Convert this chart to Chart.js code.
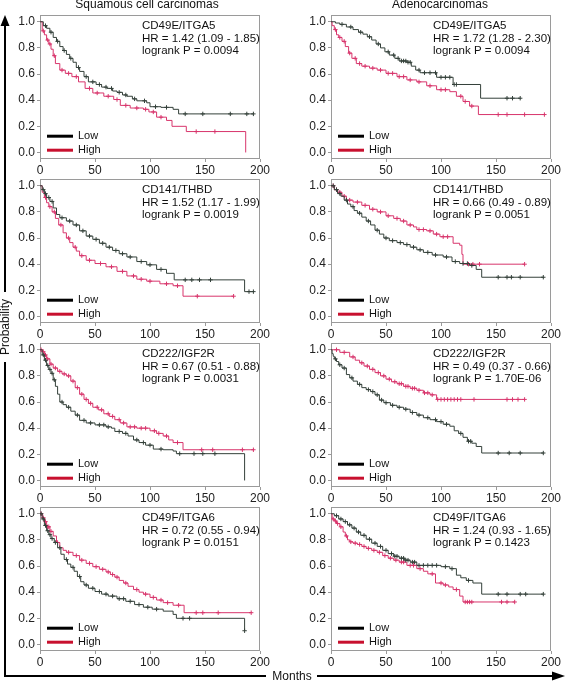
<!DOCTYPE html>
<html>
<head>
<meta charset="utf-8">
<script src="https://cdn.jsdelivr.net/npm/chart.js"></script>
<style>
body { margin: 0; background: #fff; }
#wrap { position: relative; width: 565px; height: 681px; overflow: hidden; font-family: "Liberation Sans", Arial, sans-serif; color: #111; }
#wrap canvas { position: absolute; }
.lbl { position: absolute; font-size: 12px; white-space: nowrap; line-height: 14px; }
</style>
</head>
<body>
<div id="wrap">
  <canvas id="bg" width="565" height="681" style="left:0;top:0"></canvas>
</div>
<script>
// 축, 제목
var colTitles = ['Squamous cell carcinomas', 'Adenocarcinomas'];
var yLabel = 'Probability';
var xLabel = 'Months';
var xTicks = [0, 50, 100, 150, 200];
var yTicks = [0, 0.2, 0.4, 0.6, 0.8, 1.0];
var legendNames = ['Low', 'High'];

// 패널 텍스트 (위에서 아래로)
var genes = ['CD49E/ITGA5', 'CD141/THBD', 'CD222/IGF2R', 'CD49F/ITGA6'];
var sqHr = ['HR = 1.42 (1.09 - 1.85)', 'HR = 1.52 (1.17 - 1.99)', 'HR = 0.67 (0.51 - 0.88)', 'HR = 0.72 (0.55 - 0.94)'];
var sqP = ['logrank P = 0.0094', 'logrank P = 0.0019', 'logrank P = 0.0031', 'logrank P = 0.0151'];
var adHr = ['HR = 1.72 (1.28 - 2.30)', 'HR = 0.66 (0.49 - 0.89)', 'HR = 0.49 (0.37 - 0.66)', 'HR = 1.24 (0.93 - 1.65)'];
var adP = ['logrank P = 0.0094', 'logrank P = 0.0051', 'logrank P = 1.70E-06', 'logrank P = 0.1423'];

// KM 곡선: T = 사건 시간, S = 생존율, C = 중도절단 시간
// Squamous, ITGA5
var sqA_lowT = [0, 3, 6, 9, 12, 15, 18, 21, 24, 27, 30, 33, 36, 40, 44, 51, 56, 61, 66, 70, 75, 79, 84, 88, 97, 100, 110, 121, 126];
var sqA_lowS = [1, 0.97, 0.95, 0.92, 0.88, 0.85, 0.81, 0.78, 0.75, 0.72, 0.69, 0.65, 0.62, 0.58, 0.54, 0.52, 0.50, 0.49, 0.47, 0.46, 0.44, 0.43, 0.41, 0.395, 0.38, 0.35, 0.345, 0.33, 0.295];
var sqA_lowC = [5, 10, 16, 22, 28, 35, 42, 48, 54, 60, 65, 72, 78, 86, 95, 105, 115, 132, 148, 173, 188, 194];
var sqA_highT = [0, 2, 4, 6, 8, 10, 12, 14, 18, 23, 29, 35, 41, 48, 58, 67, 73, 82, 94, 99, 106, 115, 120, 133, 187];
var sqA_highS = [1, 0.93, 0.9, 0.86, 0.83, 0.79, 0.74, 0.68, 0.63, 0.605, 0.58, 0.54, 0.49, 0.455, 0.43, 0.405, 0.36, 0.34, 0.33, 0.31, 0.27, 0.245, 0.2, 0.16, 0];
var sqA_highC = [3, 7, 9, 13, 20, 26, 33, 45, 52, 62, 70, 78, 88, 96, 103, 110, 142, 159];

// Adeno, ITGA5
var adA_lowT = [0, 4, 8, 14, 20, 25, 29, 33, 37, 41, 45, 49, 53, 58, 62, 69, 73, 77, 81, 96, 111, 136];
var adA_lowS = [1, 0.99, 0.98, 0.96, 0.94, 0.92, 0.905, 0.885, 0.86, 0.83, 0.8, 0.77, 0.745, 0.72, 0.70, 0.69, 0.66, 0.63, 0.61, 0.575, 0.52, 0.415];
var adA_lowC = [10, 18, 27, 35, 43, 52, 57, 61, 64, 66, 68, 70, 72, 80, 85, 90, 95, 100, 104, 108, 112, 114, 160, 165, 172];
var adA_highT = [0, 1, 3, 5, 7, 10, 13, 16, 19, 23, 28, 35, 42, 50, 60, 69, 78, 87, 96, 108, 114, 120, 126, 134];
var adA_highS = [1, 0.97, 0.94, 0.9, 0.88, 0.85, 0.81, 0.76, 0.72, 0.68, 0.66, 0.645, 0.63, 0.605, 0.58, 0.555, 0.54, 0.51, 0.48, 0.465, 0.43, 0.39, 0.355, 0.29];
var adA_highC = [4, 8, 12, 17, 22, 26, 31, 38, 45, 52, 56, 62, 66, 72, 80, 90, 100, 104, 118, 122, 128, 152, 160, 176, 194];

// Squamous, THBD
var sqB_lowT = [0, 2, 4, 6, 9, 12, 15, 18, 24, 30, 36, 42, 48, 54, 60, 66, 72, 79, 88, 97, 106, 115, 122, 186];
var sqB_lowS = [1, 0.97, 0.94, 0.91, 0.88, 0.83, 0.78, 0.755, 0.73, 0.70, 0.655, 0.615, 0.59, 0.56, 0.53, 0.505, 0.48, 0.455, 0.42, 0.395, 0.36, 0.33, 0.28, 0.19];
var sqB_lowC = [3, 5, 8, 11, 20, 27, 33, 39, 45, 51, 57, 63, 69, 75, 82, 92, 100, 110, 132, 138, 145, 155, 190, 194];
var sqB_highT = [0, 2, 4, 6, 8, 11, 14, 17, 21, 24, 27, 30, 33, 36, 42, 50, 60, 70, 79, 88, 97, 109, 121, 130];
var sqB_highS = [1, 0.95, 0.91, 0.87, 0.84, 0.8, 0.75, 0.7, 0.64, 0.6, 0.565, 0.53, 0.5, 0.465, 0.43, 0.405, 0.38, 0.345, 0.31, 0.285, 0.27, 0.25, 0.235, 0.155];
var sqB_highC = [5, 9, 13, 19, 26, 32, 38, 45, 55, 65, 75, 85, 92, 100, 115, 125, 143, 176];

// Adeno, THBD
var adB_lowT = [0, 3, 6, 9, 12, 15, 18, 21, 24, 28, 32, 36, 40, 44, 48, 53, 60, 66, 72, 78, 84, 92, 102, 110, 117, 126, 132, 137];
var adB_lowS = [1, 0.97, 0.94, 0.92, 0.89, 0.86, 0.84, 0.81, 0.79, 0.76, 0.73, 0.7, 0.66, 0.63, 0.6, 0.58, 0.565, 0.55, 0.53, 0.51, 0.49, 0.47, 0.455, 0.42, 0.405, 0.39, 0.36, 0.3];
var adB_lowC = [2, 5, 8, 14, 20, 26, 34, 42, 50, 56, 63, 69, 75, 81, 88, 95, 105, 113, 120, 124, 128, 152, 160, 164, 172, 193];
var adB_highT = [0, 3, 6, 10, 14, 20, 28, 35, 42, 50, 57, 63, 69, 75, 78, 87, 93, 99, 111, 117, 119, 120];
var adB_highS = [1, 0.97, 0.95, 0.92, 0.89, 0.875, 0.85, 0.82, 0.8, 0.77, 0.75, 0.73, 0.7, 0.685, 0.665, 0.655, 0.63, 0.61, 0.56, 0.545, 0.475, 0.4];
var adB_highC = [2, 5, 8, 12, 17, 24, 31, 38, 45, 52, 60, 66, 72, 80, 84, 90, 96, 102, 106, 125, 129, 135, 176];

// Squamous, IGF2R
var sqC_lowT = [0, 2, 4, 6, 8, 10, 12, 14, 16, 18, 21, 24, 28, 32, 36, 42, 50, 60, 65, 68, 75, 80, 85, 90, 96, 103, 112, 121, 124, 186];
var sqC_lowS = [1, 0.96, 0.92, 0.88, 0.85, 0.82, 0.77, 0.72, 0.66, 0.6, 0.58, 0.56, 0.53, 0.5, 0.46, 0.44, 0.425, 0.41, 0.4, 0.375, 0.36, 0.34, 0.31, 0.29, 0.27, 0.24, 0.235, 0.225, 0.205, 0];
var sqC_lowC = [3, 5, 7, 9, 11, 13, 20, 26, 34, 40, 46, 54, 58, 62, 72, 78, 88, 94, 100, 110, 127, 140, 148, 159];
var sqC_highT = [0, 2, 4, 6, 9, 12, 16, 20, 24, 28, 32, 36, 40, 44, 48, 53, 58, 63, 68, 73, 79, 88, 100, 106, 112, 117, 121, 130];
var sqC_highS = [1, 0.985, 0.96, 0.93, 0.89, 0.86, 0.835, 0.815, 0.8, 0.76, 0.71, 0.66, 0.62, 0.59, 0.56, 0.54, 0.51, 0.49, 0.465, 0.44, 0.41, 0.4, 0.38, 0.36, 0.34, 0.31, 0.29, 0.235];
var sqC_highC = [1, 3, 5, 7, 10, 14, 18, 22, 26, 30, 34, 38, 42, 46, 52, 56, 62, 66, 72, 76, 82, 86, 92, 96, 104, 108, 115, 125, 147, 157, 184, 194];

// Adeno, IGF2R
var adC_lowT = [0, 1, 2, 3, 5, 7, 10, 14, 17, 20, 24, 28, 32, 36, 40, 44, 48, 54, 60, 66, 72, 78, 84, 90, 96, 102, 108, 112, 116, 120, 124, 128, 132, 137];
var adC_lowS = [1, 0.97, 0.95, 0.93, 0.91, 0.885, 0.86, 0.81, 0.785, 0.76, 0.735, 0.71, 0.695, 0.68, 0.655, 0.615, 0.595, 0.575, 0.56, 0.545, 0.52, 0.5, 0.48, 0.465, 0.45, 0.43, 0.415, 0.38, 0.36, 0.33, 0.3, 0.285, 0.26, 0.21];
var adC_lowC = [4, 8, 12, 19, 26, 34, 38, 42, 46, 50, 56, 62, 68, 74, 80, 88, 95, 100, 105, 118, 125, 127, 152, 162, 172, 193];
var adC_highT = [0, 8, 17, 22, 26, 30, 35, 40, 45, 50, 55, 60, 66, 72, 78, 84, 90, 96];
var adC_highS = [1, 0.98, 0.945, 0.92, 0.9, 0.875, 0.85, 0.825, 0.8, 0.775, 0.755, 0.74, 0.72, 0.705, 0.69, 0.67, 0.655, 0.62];
var adC_highC = [5, 12, 20, 28, 33, 38, 43, 48, 53, 58, 62, 64, 68, 70, 74, 76, 80, 85, 88, 92, 97, 100, 103, 106, 109, 112, 115, 118, 130, 160, 165, 170, 176];

// Squamous, ITGA6
var sqD_lowT = [0, 2, 4, 6, 8, 10, 13, 16, 19, 22, 25, 28, 31, 34, 37, 40, 44, 50, 56, 62, 70, 78, 86, 94, 102, 112, 121, 124, 186];
var sqD_lowS = [1, 0.96, 0.91, 0.87, 0.84, 0.81, 0.78, 0.74, 0.69, 0.65, 0.615, 0.59, 0.56, 0.52, 0.48, 0.455, 0.43, 0.405, 0.385, 0.37, 0.35, 0.33, 0.305, 0.285, 0.27, 0.255, 0.23, 0.2, 0.105];
var sqD_lowC = [1, 3, 5, 7, 9, 11, 14, 18, 24, 30, 36, 42, 48, 54, 60, 66, 72, 76, 82, 90, 98, 106, 130, 136, 186];
var sqD_highT = [0, 2, 4, 6, 9, 12, 15, 18, 21, 24, 30, 36, 42, 48, 54, 60, 64, 68, 72, 76, 80, 85, 90, 94, 100, 106, 112, 121, 131];
var sqD_highS = [1, 0.97, 0.94, 0.9, 0.865, 0.83, 0.78, 0.74, 0.72, 0.705, 0.68, 0.645, 0.62, 0.595, 0.575, 0.555, 0.535, 0.515, 0.49, 0.47, 0.445, 0.42, 0.4, 0.385, 0.36, 0.34, 0.32, 0.3, 0.243];
var sqD_highC = [1, 3, 5, 7, 8, 10, 16, 26, 33, 38, 45, 51, 57, 62, 66, 70, 78, 88, 96, 103, 110, 116, 126, 142, 148, 162, 192];

// Adeno, ITGA6
var adD_lowT = [0, 3, 7, 11, 15, 19, 23, 27, 32, 37, 42, 47, 52, 57, 62, 67, 72, 78, 100, 108, 114, 118, 123, 129, 137];
var adD_lowS = [1, 0.985, 0.96, 0.94, 0.915, 0.89, 0.86, 0.835, 0.805, 0.775, 0.75, 0.72, 0.695, 0.675, 0.66, 0.645, 0.63, 0.605, 0.595, 0.58, 0.53, 0.51, 0.49, 0.47, 0.385];
var adD_lowC = [5, 9, 13, 17, 21, 25, 30, 35, 40, 45, 50, 55, 58, 60, 64, 66, 68, 70, 74, 76, 80, 84, 88, 92, 96, 104, 110, 125, 152, 160, 172, 177, 193];
var adD_highT = [0, 1, 3, 5, 8, 11, 13, 15, 17, 20, 24, 28, 32, 37, 42, 47, 52, 57, 62, 69, 78, 84, 88, 95, 102, 107, 111, 117, 120];
var adD_highS = [1, 0.96, 0.945, 0.925, 0.9, 0.86, 0.83, 0.8, 0.785, 0.775, 0.765, 0.75, 0.735, 0.72, 0.705, 0.68, 0.66, 0.645, 0.63, 0.605, 0.58, 0.56, 0.54, 0.47, 0.455, 0.44, 0.42, 0.37, 0.325];
var adD_highC = [2, 4, 6, 9, 14, 18, 22, 26, 30, 34, 39, 44, 49, 54, 59, 64, 66, 72, 75, 81, 92, 100, 104, 114, 122, 124, 126, 128, 155, 160, 167];

var FONT = '"Liberation Sans", Arial, sans-serif';
var lowColor = '#34403a';
var highColor = '#d8356c';

window.onload = function()
{
    drawFrame();

    mkpanel(10, 6, sqA_lowT, sqA_lowS, sqA_lowC, sqA_highT, sqA_highS, sqA_highC, [genes[0], sqHr[0], sqP[0]]);
    mkpanel(301, 6, adA_lowT, adA_lowS, adA_lowC, adA_highT, adA_highS, adA_highC, [genes[0], adHr[0], adP[0]]);
    mkpanel(10, 170, sqB_lowT, sqB_lowS, sqB_lowC, sqB_highT, sqB_highS, sqB_highC, [genes[1], sqHr[1], sqP[1]]);
    mkpanel(301, 170, adB_lowT, adB_lowS, adB_lowC, adB_highT, adB_highS, adB_highC, [genes[1], adHr[1], adP[1]]);
    mkpanel(10, 334, sqC_lowT, sqC_lowS, sqC_lowC, sqC_highT, sqC_highS, sqC_highC, [genes[2], sqHr[2], sqP[2]]);
    mkpanel(301, 334, adC_lowT, adC_lowS, adC_lowC, adC_highT, adC_highS, adC_highC, [genes[2], adHr[2], adP[2]]);
    mkpanel(10, 498, sqD_lowT, sqD_lowS, sqD_lowC, sqD_highT, sqD_highS, sqD_highC, [genes[3], sqHr[3], sqP[3]]);
    mkpanel(301, 498, adD_lowT, adD_lowS, adD_lowC, adD_highT, adD_highS, adD_highC, [genes[3], adHr[3], adP[3]]);
}

// 바깥 화살표와 제목
function drawFrame()
{
    var wrap = document.getElementById('wrap');
    var ctx = document.getElementById('bg').getContext('2d');
    ctx.strokeStyle = '#000';
    ctx.fillStyle = '#000';
    ctx.lineWidth = 2;

    ctx.beginPath();
    ctx.moveTo(5, 24); ctx.lineTo(5, 292);
    ctx.moveTo(5, 362); ctx.lineTo(5, 676);
    ctx.lineTo(266, 676);
    ctx.moveTo(317, 676); ctx.lineTo(553, 676);
    ctx.stroke();

    ctx.beginPath();
    ctx.moveTo(5, 15); ctx.lineTo(0.5, 26); ctx.lineTo(9.5, 26); ctx.closePath();
    ctx.fill();
    ctx.beginPath();
    ctx.moveTo(565, 676); ctx.lineTo(552, 671.5); ctx.lineTo(552, 680.5); ctx.closePath();
    ctx.fill();

    addLabel(wrap, colTitles[0], 147, 4, 0);
    addLabel(wrap, colTitles[1], 440, 4, 0);
    addLabel(wrap, yLabel, 5, 327, -90);
    addLabel(wrap, xLabel, 292, 676, 0);
}

function addLabel(wrap, text, cx, cy, rot)
{
    var d = document.createElement('div');
    d.className = 'lbl';
    d.textContent = text;
    d.style.left = cx + 'px';
    d.style.top = cy + 'px';
    d.style.transform = 'translate(-50%, -50%) rotate(' + rot + 'deg)';
    wrap.appendChild(d);
}

// 사건 + 중도절단을 한 줄의 계단 데이터로
function kmData(t, s, c)
{
    var pts = [];
    for (var i = 0; i < t.length; i++) pts.push({x: t[i], y: s[i], cens: false});
    for (var j = 0; j < c.length; j++)
    {
        var y = 1;
        for (var k = 0; k < t.length; k++) if (t[k] <= c[j]) y = s[k];
        pts.push({x: c[j], y: y, cens: true});
    }
    pts.sort(function(a, b) { return a.x - b.x; });
    return pts;
}

function kmSet(label, t, s, c, color)
{
    var pts = kmData(t, s, c);
    return {
        label: label,
        data: pts,
        stepped: true,
        borderColor: color,
        borderWidth: 1,
        fill: false,
        pointStyle: 'cross',
        pointRadius: pts.map(function(p) { return p.cens ? 2.2 : 0; }),
        pointBorderColor: color,
        pointBorderWidth: 1
    };
}

var panelPlugin = {
    id: 'panelPlugin',
    beforeDatasetsDraw: function(chart)
    {
        var a = chart.chartArea, ctx = chart.ctx;
        ctx.save();
        ctx.strokeStyle = '#9a9a9a';
        ctx.lineWidth = 1;
        ctx.strokeRect(Math.round(a.left) + 0.5, Math.round(a.top) + 0.5, Math.round(a.right - a.left) - 1, Math.round(a.bottom - a.top) - 1);
        ctx.restore();
    },
    afterDraw: function(chart)
    {
        var a = chart.chartArea, ctx = chart.ctx;
        var lines = chart.options.plugins.panelPlugin.lines;
        ctx.save();
        ctx.fillStyle = '#111';
        ctx.font = '11.5px ' + FONT;
        ctx.textBaseline = 'middle';
        ctx.textAlign = 'left';
        for (var i = 0; i < lines.length; i++) ctx.fillText(lines[i], a.left + 102, a.top + 11 + i * 12.5);

        // 범례
        var cols = ['#000', '#c8102e'];
        ctx.font = '11px ' + FONT;
        for (var j = 0; j < legendNames.length; j++)
        {
            var ly = a.top + 121 + j * 14;
            ctx.strokeStyle = cols[j];
            ctx.lineWidth = 3;
            ctx.beginPath();
            ctx.moveTo(a.left + 7, ly);
            ctx.lineTo(a.left + 33, ly);
            ctx.stroke();
            ctx.fillStyle = '#111';
            ctx.fillText(legendNames[j], a.left + 38, ly);
        }
        ctx.restore();
    }
};

function mkpanel(left, top, lowT, lowS, lowC, highT, highS, highC, lines)
{
    var wrap = document.getElementById('wrap');
    var cv = document.createElement('canvas');
    cv.width = 262;
    cv.height = 171;
    cv.style.left = left + 'px';
    cv.style.top = top + 'px';
    wrap.appendChild(cv);

    new Chart(cv, {
        type: 'line',
        data: {
            datasets: [
                kmSet('Low', lowT, lowS, lowC, lowColor),
                kmSet('High', highT, highS, highC, highColor)
            ]
        },
        options: {
            responsive: false,
            animation: false,
            events: [],
            layout: { padding: { top: 6, right: 12, left: 0, bottom: 0 } },
            plugins: {
                legend: { display: false },
                tooltip: { enabled: false },
                panelPlugin: { lines: lines }
            },
            scales: {
                x: {
                    type: 'linear', min: 0, max: 200,
                    afterBuildTicks: function(s) { s.ticks = xTicks.map(function(v) { return {value: v}; }); },
                    afterFit: function(s) { s.height = 18; },
                    grid: { drawOnChartArea: false, tickLength: 3, color: '#9a9a9a' },
                    border: { display: false },
                    ticks: { color: '#222', padding: 1, maxRotation: 0, font: { family: FONT, size: 12 } }
                },
                y: {
                    type: 'linear', min: -0.05, max: 1.05,
                    afterBuildTicks: function(s) { s.ticks = yTicks.map(function(v) { return {value: v}; }); },
                    afterFit: function(s) { s.width = 30; },
                    grid: { drawOnChartArea: false, tickLength: 3, color: '#9a9a9a' },
                    border: { display: false },
                    ticks: { color: '#222', padding: 2, font: { family: FONT, size: 12 },
                        callback: function(v) { return Number(v).toFixed(1); } }
                }
            }
        },
        plugins: [panelPlugin]
    });
}
</script>
</body>
</html>
